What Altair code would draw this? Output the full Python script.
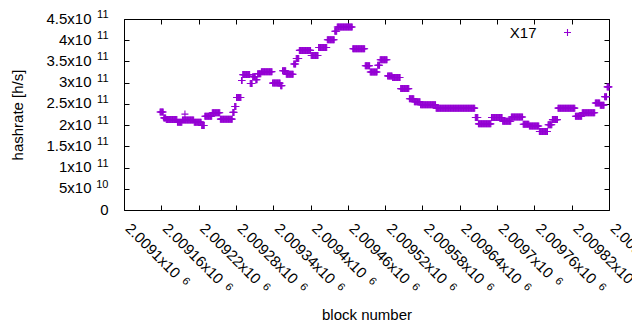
import altair as alt
import pandas as pd

# ---- data ----
# hashrate stays constant over runs of consecutive blocks: run start block and its value
run_start = [2009158, 2009164, 2009168, 2009186, 2009194, 2009213, 2009225, 2009230,
             2009242, 2009255, 2009275, 2009278, 2009281, 2009289, 2009291, 2009303,
             2009307, 2009312, 2009315, 2009321, 2009339, 2009352, 2009355, 2009361,
             2009373, 2009377, 2009382, 2009401, 2009413, 2009427, 2009439, 2009443,
             2009468, 2009488, 2009496, 2009508, 2009512, 2009524, 2009532, 2009545,
             2009559, 2009567, 2009577, 2009602, 2009665, 2009670, 2009691, 2009709,
             2009723, 2009742, 2009752, 2009768, 2009782, 2009789, 2009798, 2009826,
             2009837, 2009858, 2009866, 2009873, 2009877]
run_value = [2.31e11, 2.17e11, 2.13e11, 2.07e11, 2.12e11, 2.07e11, 1.99e11, 2.21e11,
             2.29e11, 2.14e11, 2.30e11, 2.44e11, 2.65e11, 3.05e11, 3.19e11, 2.98e11,
             3.14e11, 3.07e11, 3.21e11, 3.26e11, 2.99e11, 2.93e11, 3.28e11, 3.20e11,
             3.44e11, 3.57e11, 3.76e11, 3.64e11, 3.83e11, 4.01e11, 4.21e11, 4.31e11,
             3.80e11, 3.40e11, 3.25e11, 3.41e11, 3.54e11, 3.16e11, 3.12e11, 2.86e11,
             2.62e11, 2.55e11, 2.48e11, 2.40e11, 2.18e11, 2.03e11, 2.18e11, 2.09e11,
             2.19e11, 2.02e11, 1.98e11, 1.85e11, 2.01e11, 2.13e11, 2.40e11, 2.21e11,
             2.29e11, 2.52e11, 2.47e11, 2.67e11, 2.90e11]
last_block = 2009880
single_block = [2009198]
single_value = [2.26e11]

series_name = "X17"
x_ticks = [2009100, 2009160, 2009220, 2009280, 2009340, 2009400, 2009460,
           2009520, 2009580, 2009640, 2009700, 2009760, 2009820, 2009880]
y_ticks = [0, 5e10, 1e11, 1.5e11, 2e11, 2.5e11, 3e11, 3.5e11, 4e11, 4.5e11]
x_domain = [2009100, 2009880]
y_domain = [0, 4.5e11]

# ---- tables ----
rows = []
for i, s in enumerate(run_start):
    e = run_start[i + 1] if i + 1 < len(run_start) else last_block + 1
    for b in range(s, e):
        rows.append({"block": b, "hashrate": run_value[i], "series": series_name})
for b, v in zip(single_block, single_value):
    rows.append({"block": b, "hashrate": v, "series": series_name})
df = pd.DataFrame(rows)
frame = pd.DataFrame({"block": x_domain, "hashrate": y_domain})

PLUS = "M-1,0H1M0,-1V1"
COLOR = "#9400D3"
FONT = "Liberation Sans"
LFS = 15
EFS = 11

xs = alt.Scale(domain=x_domain, nice=False, zero=False)
ys = alt.Scale(domain=y_domain, nice=False, zero=False)

common = dict(grid=False, domain=False, labelFlush=False, labelOverlap=False,
              labelBound=False, labelColor="black", labelFont=FONT)

# main layer: points + mantissa labels + titles + legend
x_main = alt.Axis(orient="bottom", values=x_ticks, ticks=False,
                  labelExpr="datum.value/1e6 + 'x10'", labelAngle=45,
                  labelAlign="left", labelBaseline="alphabetic", labelPadding=19,
                  labelFontSize=LFS, title="block number", titleFont=FONT,
                  titleFontSize=LFS, titleFontWeight="normal", titleColor="black",
                  titlePadding=21, **common)
y_main = alt.Axis(orient="left", values=y_ticks, ticks=False,
                  labelExpr="datum.value == 0 ? '0' : (datum.value < 1e11 ? datum.value/1e10 : datum.value/1e11) + 'x10'",
                  labelAlign="right", labelBaseline="middle", labelOffset=-1,
                  labelPadding={"condition": {"test": "datum.value == 0", "value": 16}, "value": 33},
                  labelFontSize=LFS, title="hashrate [h/s]", titleFont=FONT,
                  titleFontSize=LFS, titleFontWeight="normal", titleColor="black",
                  titlePadding=20, **common)

points = alt.Chart(df).mark_point(shape=PLUS, filled=False, size=49, strokeWidth=1.1,
                                  opacity=1).encode(
    x=alt.X("block:Q", scale=xs, axis=x_main),
    y=alt.Y("hashrate:Q", scale=ys, axis=y_main),
    color=alt.Color("series:N", scale=alt.Scale(domain=[series_name], range=[COLOR]),
                    legend=alt.Legend(title=None, orient="none", legendX=436, legendY=6,
                                      symbolType=PLUS, symbolSize=49, symbolStrokeWidth=1.1,
                                      symbolFillColor="transparent", labelAlign="right",
                                      labelOffset={"expr": "-38.5"}, labelFont=FONT,
                                      labelFontSize=LFS, labelColor="black", padding=0,
                                      symbolOffset=0)),
)

# exponent labels
x_exp = alt.Axis(orient="bottom", values=x_ticks, ticks=False, labelExpr="'6'",
                 labelAngle=45, labelAlign="left", labelBaseline="alphabetic",
                 labelOffset={"condition": {"test": "datum.value % 100 == 0", "value": 56.9}, "value": 62.8},
                 labelPadding={"condition": {"test": "datum.value % 100 == 0", "value": 71.0}, "value": 76.8},
                 labelFontSize=EFS, title=None, **common)
y_exp = alt.Axis(orient="left", values=y_ticks, ticks=False,
                 labelExpr="datum.value == 0 ? '' : (datum.value < 1e11 ? '10' : '11')",
                 labelAlign="right", labelBaseline="middle", labelPadding=16, labelOffset=-4.5,
                 labelFontSize=EFS, title=None, **common)
exps = alt.Chart(frame).mark_point(opacity=0).encode(
    x=alt.X("block:Q", scale=xs, axis=x_exp),
    y=alt.Y("hashrate:Q", scale=ys, axis=y_exp),
)

# inward ticks on all four sides
def tick_axis(orient, vals):
    return alt.Axis(orient=orient, values=vals, labels=False, ticks=True, tickSize=5,
                    tickColor="black", tickWidth=1, offset=-5, domain=False, grid=False,
                    title=None)

ticks_a = alt.Chart(frame).mark_point(opacity=0).encode(
    x=alt.X("block:Q", scale=xs, axis=tick_axis("bottom", x_ticks)),
    y=alt.Y("hashrate:Q", scale=ys, axis=tick_axis("left", y_ticks)),
)
ticks_b = alt.Chart(frame).mark_point(opacity=0).encode(
    x=alt.X("block:Q", scale=xs, axis=tick_axis("top", x_ticks)),
    y=alt.Y("hashrate:Q", scale=ys, axis=tick_axis("right", y_ticks)),
)

chart = alt.layer(points, exps, ticks_a, ticks_b).resolve_axis(
    x="independent", y="independent"
).properties(
    width=485, height=191,
    autosize=alt.AutoSizeParams(type="none"),
    padding={"left": 116, "top": 11, "right": 23, "bottom": 112},
    background="white",
).configure_view(stroke="black", strokeWidth=1)

chart.save("out.html", embed_options={"renderer": "svg", "actions": False})
